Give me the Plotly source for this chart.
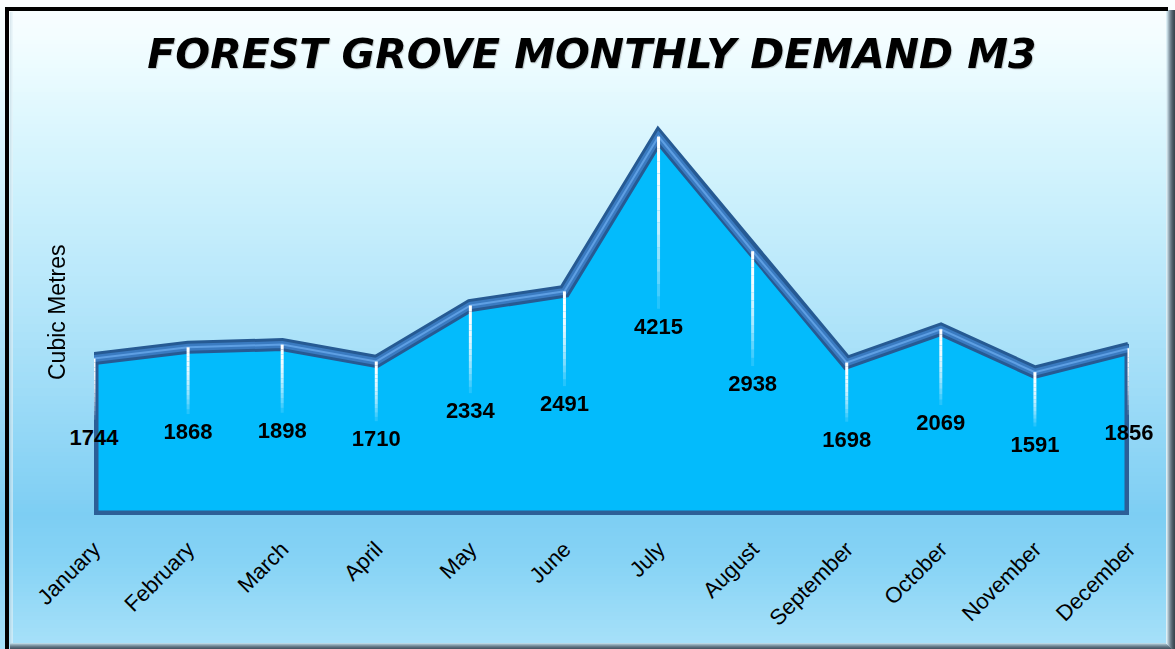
import plotly.graph_objects as go

MONTHS = ["January", "February", "March", "April", "May", "June", "July",
          "August", "September", "October", "November", "December"]
DEMAND = [1744, 1868, 1898, 1710, 2334, 2491, 4215, 2938, 1698, 2069, 1591, 1856]
TITLE = "FOREST GROVE MONTHLY DEMAND M3"
Y_TITLE = "Cubic Metres"

W, H = 1175, 649
L, R, T, B = 94, 1129, 111, 515
YMAX = 4500

def px_x(px):
    return (px - L) / (R - L)

def px_y(py):
    return (B - py) / (B - T)

def hex2rgb(h):
    h = h.lstrip("#")
    return tuple(int(h[i:i + 2], 16) for i in (0, 2, 4))

def lerp_color(stops, py):
    for (y0, c0), (y1, c1) in zip(stops, stops[1:]):
        if y0 <= py <= y1:
            t = (py - y0) / (y1 - y0) if y1 > y0 else 0
            a, b = hex2rgb(c0), hex2rgb(c1)
            return "rgb(%d,%d,%d)" % tuple(round(a[i] + (b[i] - a[i]) * t) for i in range(3))
    return stops[-1][1]

BG_STOPS = [(0, "#FBFEFF"), (60, "#EEFCFF"), (120, "#DDF7FE"), (200, "#CBF0FC"),
            (300, "#B5E6FA"), (400, "#9CDBF7"), (515, "#7DCEF3"), (560, "#86D3F5"),
            (649, "#A8E1F9")]

shapes = []
step = 4
for y0 in range(0, H, step):
    y1 = min(H, y0 + step)
    shapes.append(dict(type="rect", xref="paper", yref="paper",
                       x0=px_x(0), x1=px_x(W), y0=px_y(y1), y1=px_y(y0),
                       fillcolor=lerp_color(BG_STOPS, y0 + step / 2),
                       line=dict(width=0), layer="below"))

# right bevel
bevel = ["#DDEFF6", "#C2D6DF", "#A5B8C3", "#8A9CA8", "#71828E", "#5E6E7A", "#4E5D68", "#43515B", "#3A4750"]
for i, c in enumerate(bevel):
    shapes.append(dict(type="rect", xref="paper", yref="paper",
                       x0=px_x(1166 + i), x1=px_x(1167 + i), y0=px_y(H), y1=px_y(10),
                       fillcolor=c, line=dict(width=0), layer="below"))
# bottom bevel
bbevel = ["#B9D6E2", "#98B3C0", "#7F97A4", "#687D89", "#56697A", "#4A5B66"]
for i, c in enumerate(bbevel):
    shapes.append(dict(type="rect", xref="paper", yref="paper",
                       x0=px_x(10), x1=px_x(1166 + i), y0=px_y(644 + i), y1=px_y(643 + i),
                       fillcolor=c, line=dict(width=0), layer="below"))
# left inner shadow
lsh = ["#C9DCE5", "#D8E9F0", "#E4F2F7"]
for i, c in enumerate(lsh):
    shapes.append(dict(type="rect", xref="paper", yref="paper",
                       x0=px_x(10 + i), x1=px_x(11 + i), y0=px_y(643), y1=px_y(12),
                       fillcolor=c, line=dict(width=0), layer="below", opacity=0.6))
# black frame top & left
shapes.append(dict(type="rect", xref="paper", yref="paper",
                   x0=px_x(5), x1=px_x(1168), y0=px_y(11), y1=px_y(7),
                   fillcolor="#000000", line=dict(width=0), layer="below"))
shapes.append(dict(type="rect", xref="paper", yref="paper",
                   x0=px_x(5), x1=px_x(9), y0=px_y(H), y1=px_y(7),
                   fillcolor="#000000", line=dict(width=0), layer="below"))

xs = list(range(len(MONTHS)))
fig = go.Figure()

# filled area polygon with outline
fig.add_trace(go.Scatter(
    x=xs + [xs[-1], xs[0], xs[0]], y=DEMAND + [0, 0, DEMAND[0]],
    mode="lines", fill="toself", fillcolor="#03BBFC",
    line=dict(color="#2C5F97", width=9), hoverinfo="skip", showlegend=False))

# thick top edge with highlight
fig.add_trace(go.Scatter(x=xs, y=DEMAND, mode="lines",
                         line=dict(color="#265A93", width=13),
                         hoverinfo="skip", showlegend=False))
fig.add_trace(go.Scatter(x=xs, y=DEMAND, mode="lines",
                         line=dict(color="#3A7BC1", width=7),
                         hoverinfo="skip", showlegend=False))
fig.add_trace(go.Scatter(x=xs, y=DEMAND, mode="lines",
                         line=dict(color="#5E9FE3", width=2),
                         hoverinfo="skip", showlegend=False))

# white fading drop lines from each value towards its label
N = 14
for k in range(N):
    lx, ly = [], []
    for i, v in enumerate(DEMAND):
        top = v
        bottom = v / 2 + 190
        seg = (top - bottom) / N
        lx += [i, i, None]
        ly += [top - k * seg, top - (k + 1) * seg, None]
    fig.add_trace(go.Scatter(x=lx, y=ly, mode="lines",
                             line=dict(color="white", width=3),
                             opacity=max(0.08, 1 - (k / N) ** 2),
                             hoverinfo="skip", showlegend=False, cliponaxis=False))

# data labels at half height
fig.add_trace(go.Scatter(x=xs, y=[v / 2 - 30 for v in DEMAND], mode="text",
                         text=[str(v) for v in DEMAND], textposition="middle center",
                         textfont=dict(family="Liberation Sans, Arial", size=22,
                                       color="#000000", weight="bold"),
                         cliponaxis=False, hoverinfo="skip", showlegend=False))

fig.update_layout(
    width=W, height=H, autosize=False,
    margin=dict(l=L, r=W - R, t=T, b=H - B, pad=0),
    paper_bgcolor="rgba(0,0,0,0)", plot_bgcolor="rgba(0,0,0,0)",
    shapes=shapes,
    title=dict(text=TITLE, x=592 / W, xanchor="center", y=1 - 54 / H, yanchor="middle",
               font=dict(family="DejaVu Sans", size=41, color="#000000",
                         weight="bold", style="italic",
                         shadow="1px 1px 1px rgba(0,0,0,0.2)")),
    xaxis=dict(range=[0, len(MONTHS) - 1], tickvals=xs, ticktext=MONTHS,
               tickangle=-45, ticks="", showgrid=False, zeroline=False, showline=False,
               ticklabelstandoff=16,
               tickfont=dict(family="Liberation Sans, Arial", size=22, color="#000000")),
    yaxis=dict(range=[0, YMAX], visible=False, showgrid=False, zeroline=False),
    annotations=[dict(text=Y_TITLE, xref="paper", yref="paper", x=px_x(57), y=0.5,
                      xanchor="center", yanchor="middle", textangle=-90, showarrow=False,
                      font=dict(family="Liberation Sans, Arial", size=23, color="#000000"))],
)

fig.write_html("out.html", config={"displayModeBar": False},
               post_script="document.body.style.margin='0';document.body.style.overflow='hidden';")
